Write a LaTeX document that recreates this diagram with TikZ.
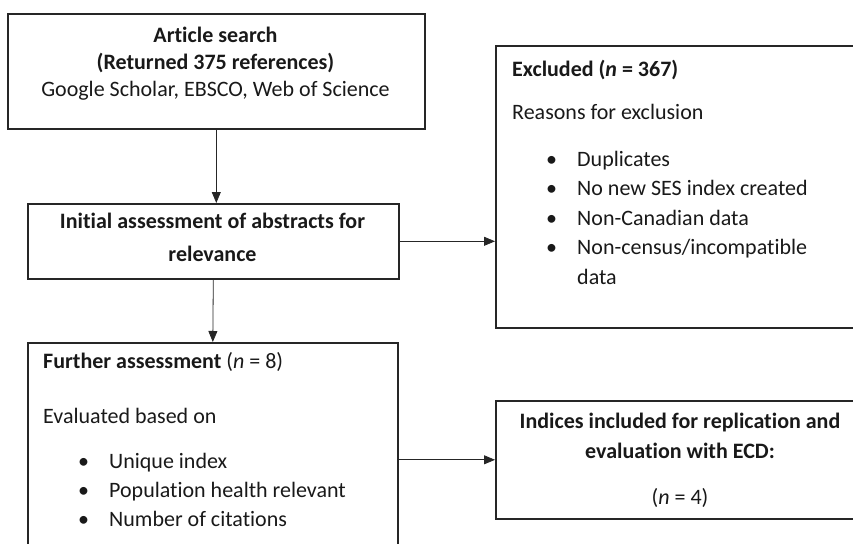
\documentclass[tikz,border=0pt]{standalone}
\usepackage{fontspec}
\setmainfont{Carlito}[Ligatures=NoCommon]
\usetikzlibrary{arrows.meta}

\tikzset{
  box/.style={draw=black!85, line width=1.6pt, anchor=north west, inner sep=0pt},
  conn/.style={draw=black!85, line width=0.8pt, -{Triangle[length=11pt,width=9pt]}},
  txt/.style={inner sep=0pt, text=black!90, font=\fontsize{22}{27}\selectfont},
}
\newcommand{\itm}[1]{\makebox[31pt][l]{\textbullet}#1}

\begin{document}
\begin{tikzpicture}[x=1pt,y=-1pt]
	\useasboundingbox (0,0) rectangle (853,543);
	\clip (0,0) rectangle (853,543);
	\node[box, minimum width=417pt, minimum height=115pt] (search) at (7,13) {};
	\node[box, minimum width=371pt, minimum height=75pt] (initial) at (27,203) {};
	\node[box, minimum width=370pt, minimum height=230pt] (further) at (27,342) {};
	\node[box, minimum width=380pt, minimum height=282pt] (excluded) at (495,45) {};
	\node[box, minimum width=370pt, minimum height=118pt] (included) at (495,400) {};
	\node[txt, anchor=base, align=center] (searchtxt) at (215.5,96) {\textbf{Article search}\\\textbf{(Returned 375 references)}\\Google Scholar, EBSCO, Web of Science};
	\node[txt, anchor=base, align=center, font=\fontsize{22}{33}\selectfont] (initialtxt) at (212.5,261) {\textbf{Initial assessment of abstracts for}\\\textbf{relevance}};
	\node[txt, anchor=base west, align=left] (excludedhead) at (512,119) {\textbf{Excluded (\textit{n} = 367)}\\[16pt]Reasons for exclusion};
	\node[txt, anchor=base west, align=left, font=\fontsize{22}{29.5}\selectfont] (excludedlist) at (546,284) {\itm{Duplicates}\\\itm{No new SES index created}\\\itm{Non-Canadian data}\\\itm{Non-census/incompatible}\\\hspace*{31pt}data};
	\node[txt, anchor=base west, align=left] (furtherhead) at (43,423) {\textbf{Further assessment} (\textit{n} = 8)\\[28pt]Evaluated based on};
	\node[txt, anchor=base west, align=left, font=\fontsize{22}{29}\selectfont] (furtherlist) at (78,526) {\itm{Unique index}\\\itm{Population health relevant}\\\itm{Number of citations}};
	\node[txt, anchor=base, align=center, font=\fontsize{22}{30}\selectfont] (includedtxt) at (680,504) {\textbf{Indices included for replication and}\\\textbf{evaluation with ECD:}\\[16pt](\textit{n} = 4)};
	\draw[conn] (search.south) -- (search.south |- initial.north);
	\draw[conn] (initial.south) -- (further.north);
	\draw[conn] (initial.east) -- (initial.east -| excluded.west);
	\draw[conn] (included.west -| further.east) -- (included.west);
\end{tikzpicture}
\end{document}
